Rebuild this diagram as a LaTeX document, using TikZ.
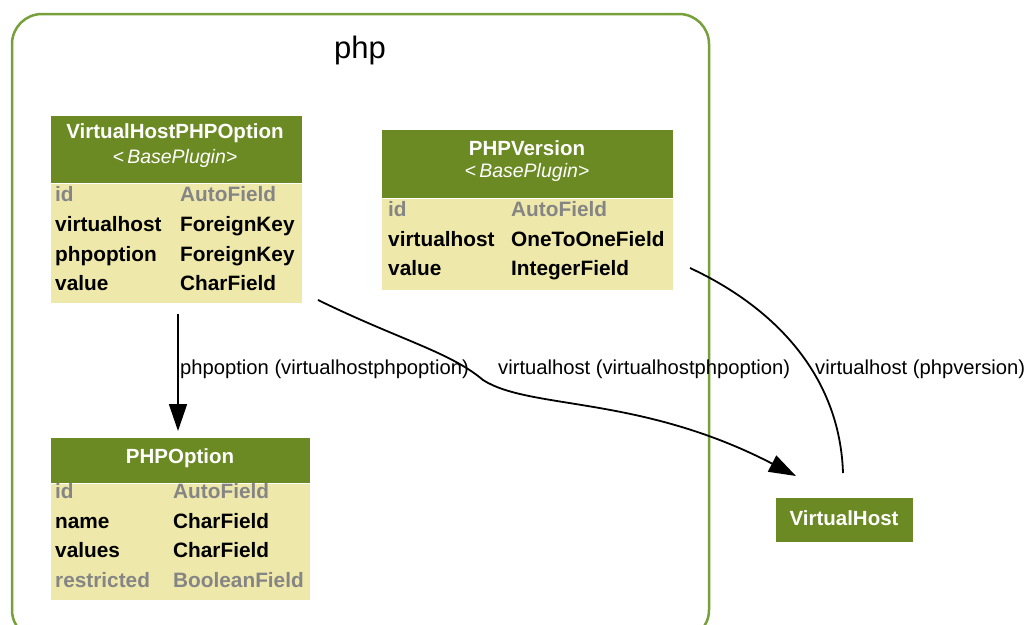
\documentclass[tikz,border=0pt]{standalone}
\usepackage{fontspec}
\setmainfont{Liberation Sans}
\usetikzlibrary{arrows.meta}

\definecolor{hdrgreen}{HTML}{6B8A23}
\definecolor{bodyyellow}{HTML}{EEE8AA}
\definecolor{framegreen}{HTML}{76A03A}
\definecolor{fieldgray}{HTML}{858585}

\tikzset{
    hdr/.style={fill=hdrgreen, draw=white, line width=0.8pt, text=white, anchor=north west, inner sep=0pt},
    tblbody/.style={fill=bodyyellow, draw=white, line width=0.8pt, anchor=north west, inner sep=0pt},
    title/.style={text=white, inner sep=0pt, font=\fontsize{20.5}{24}\selectfont\bfseries},
    subtitle/.style={text=white, inner sep=0pt, font=\fontsize{19.5}{22}\selectfont\itshape},
    fld/.style={anchor=west, inner sep=0pt, font=\fontsize{20.8}{24}\selectfont\bfseries, text height=15pt, text depth=4pt},
    auto fld/.style={fld, text=fieldgray},
    edgelbl/.style={anchor=west, inner sep=0pt, font=\fontsize{20.2}{24}\selectfont},
    fk/.style={-{Triangle[length=27pt, width=18pt]}, line width=1.8pt},
}

\begin{document}
\begin{tikzpicture}[x=1pt, y=-1pt]
    \useasboundingbox (0,0) rectangle (1033,624);
    \begin{scope}
        \clip (0,0) rectangle (1033,624);
        \draw[framegreen, line width=2.5pt, rounded corners=30pt] (12,14) rectangle (709,640);
    \end{scope}
    \node[font=\fontsize{31}{36}\selectfont] (php) at (360,50) {php};

    % VirtualHostPHPOption
    \node[hdr, minimum width=252pt, minimum height=68pt] (vhpo) at (50,115) {};
    \node[title] (vhpo-t) at (175,133) {VirtualHostPHPOption};
    \node[subtitle] (vhpo-s) at (175,158) {<\,BasePlugin>};
    \node[tblbody, minimum width=252pt, minimum height=120pt] (vhpo-b) at (50,183) {};
    \node[auto fld] at (55,196) {id};
    \node[auto fld] at (180,196) {AutoField};
    \node[fld] at (55,226) {virtualhost};
    \node[fld] at (180,226) {ForeignKey};
    \node[fld] at (55,256) {phpoption};
    \node[fld] at (180,256) {ForeignKey};
    \node[fld] at (55,285) {value};
    \node[fld] at (180,285) {CharField};

    % PHPVersion
    \node[hdr, minimum width=292pt, minimum height=69pt] (phpv) at (381,129) {};
    \node[title] (phpv-t) at (527,148) {PHPVersion};
    \node[subtitle] (phpv-s) at (527,172) {<\,BasePlugin>};
    \node[tblbody, minimum width=292pt, minimum height=92pt] (phpv-b) at (381,198) {};
    \node[auto fld] at (388,211) {id};
    \node[auto fld] at (511,211) {AutoField};
    \node[fld] at (388,241) {virtualhost};
    \node[fld] at (511,241) {OneToOneField};
    \node[fld] at (388,270) {value};
    \node[fld] at (511,270) {IntegerField};

    % PHPOption
    \node[hdr, minimum width=260pt, minimum height=46pt] (phpo) at (50,437) {};
    \node[title] (phpo-t) at (180,458) {PHPOption};
    \node[tblbody, minimum width=260pt, minimum height=117pt] (phpo-b) at (50,483) {};
    \node[auto fld] at (55,493) {id};
    \node[auto fld] at (173,493) {AutoField};
    \node[fld] at (55,523) {name};
    \node[fld] at (173,523) {CharField};
    \node[fld] at (55,552) {values};
    \node[fld] at (173,552) {CharField};
    \node[auto fld] at (55,582) {restricted};
    \node[auto fld] at (173,582) {BooleanField};

    % VirtualHost
    \node[hdr, minimum width=138pt, minimum height=45pt] (vh) at (775,497) {};
    \node[title] (vh-t) at (844,518) {VirtualHost};

    % edge ends
    \coordinate (e1a) at (178,314);
    \coordinate (e1b) at (178,431);
    \coordinate (e2a) at (318,300);
    \coordinate (e2b) at (796,476);
    \coordinate (e3a) at (690,268);
    \coordinate (e3b) at (843,473);

    \draw[fk] (e1a) -- (e1b);
    \node[edgelbl] (l1) at (180,369) {phpoption (virtualhostphpoption)};

    \draw[fk] (e2a) .. controls (400,340) and (450,352) .. (483,380)
        .. controls (530,410) and (640,395) .. (e2b);
    \node[edgelbl] (l2) at (498,369) {virtualhost (virtualhostphpoption)};

    \draw[line width=1.8pt] (e3a) .. controls (780,310) and (840,380) .. (e3b);
    \node[edgelbl] (l3) at (815,369) {virtualhost (phpversion)};
\end{tikzpicture}
\end{document}
